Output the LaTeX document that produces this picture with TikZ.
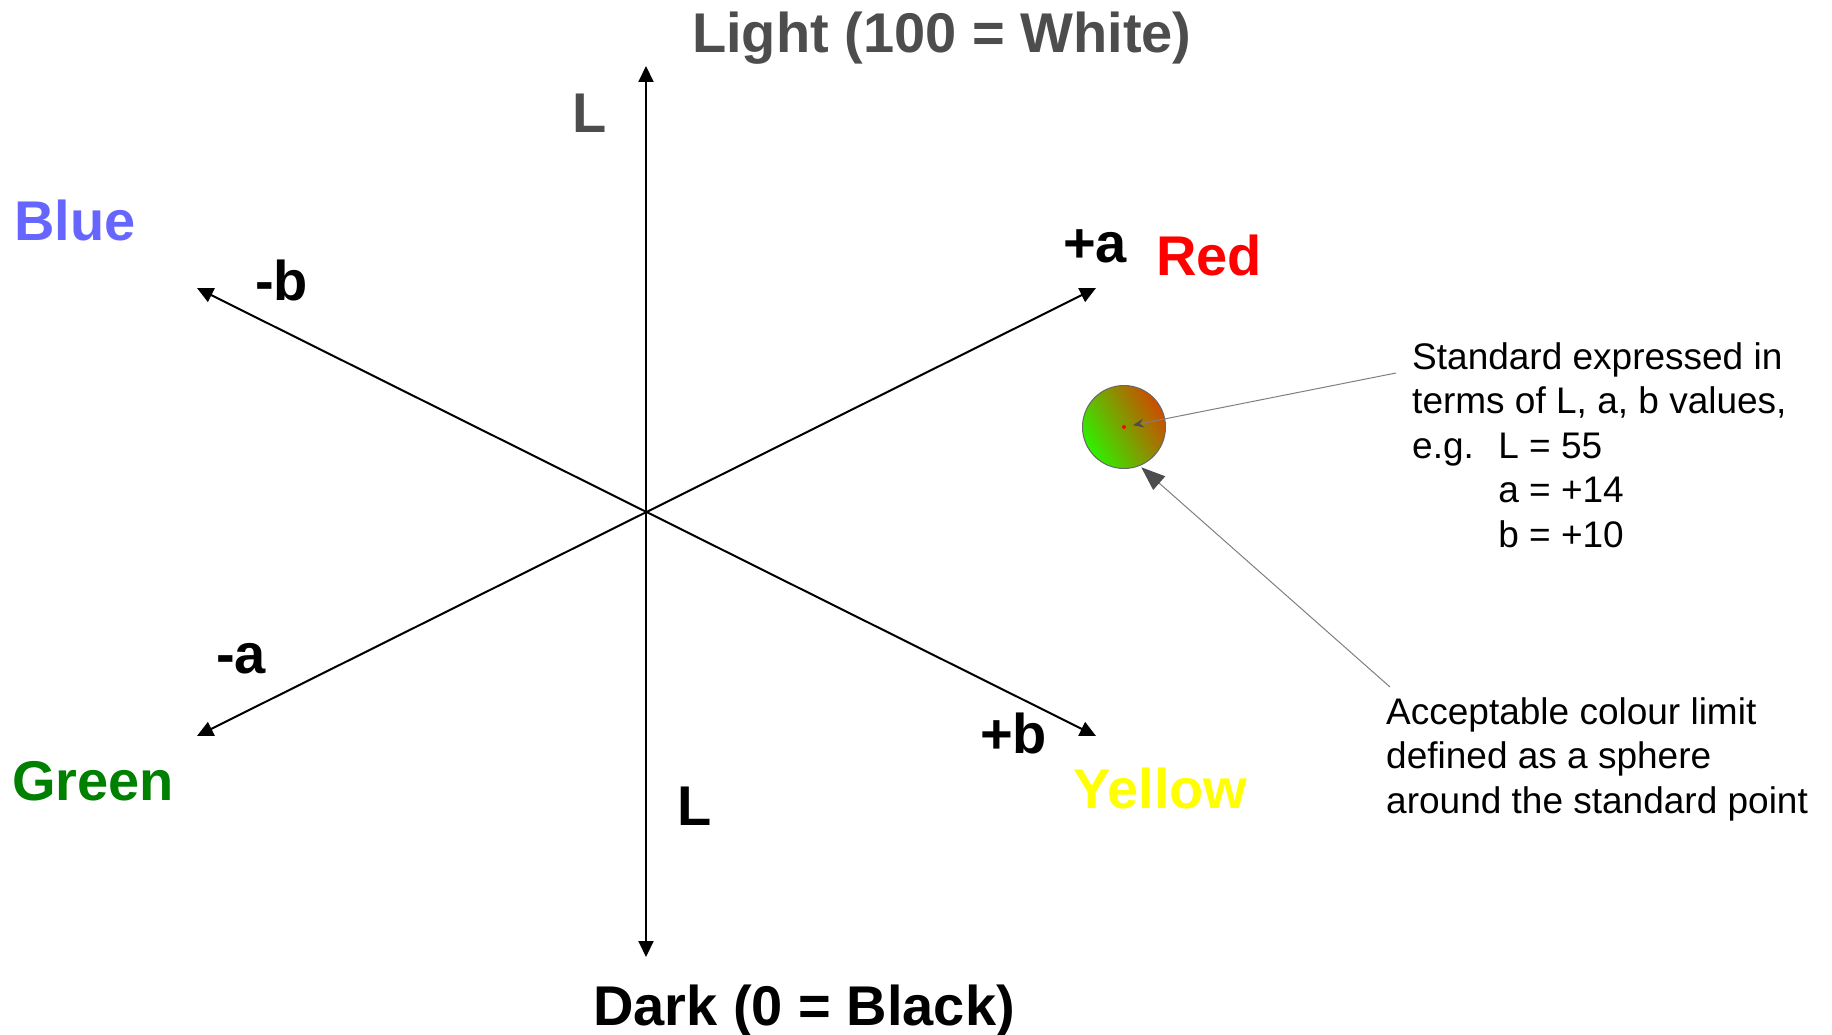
\documentclass[tikz,border=0pt]{standalone}
\usepackage{fontspec}
\setmainfont{Liberation Sans}
\usetikzlibrary{arrows.meta}
\definecolor{titlegray}{HTML}{4D4D4D}
\definecolor{labblue}{HTML}{6666FF}
\definecolor{labred}{HTML}{FF0000}
\definecolor{labgreen}{HTML}{008000}
\definecolor{labyellow}{HTML}{FFFF00}
\definecolor{spheretop}{HTML}{CC4C00}
\definecolor{spherebot}{HTML}{30F000}
\definecolor{annogray}{HTML}{7F7F7F}
\begin{document}
\begin{tikzpicture}[x=1pt,y=-1pt,
  axisline/.style={line width=2pt,
    {Triangle[length=16pt,width=15pt]}-{Triangle[length=16pt,width=15pt]}},
  biglabel/.style={font=\fontsize{56}{67}\selectfont\bfseries, inner sep=0pt, anchor=base west},
  note/.style={font=\fontsize{37}{44.5}\selectfont, inner sep=0pt, anchor=base west, align=left},
  anno/.style={draw=annogray, line width=1pt},
]
\useasboundingbox (0,0) rectangle (1832,1035);

% axes
\coordinate (O) at (646,512);
\coordinate (Ltop) at (646,66);
\coordinate (Lbot) at (646,957);
\coordinate (bneg) at (197,288);
\coordinate (bpos) at (1096,736);
\coordinate (aneg) at (197,736);
\coordinate (apos) at (1096,288);
\draw[axisline] (Lbot) -- (Ltop);
\draw[axisline] (bneg) -- (bpos);
\draw[axisline] (aneg) -- (apos);

% labels
\node[biglabel, text=titlegray] (light) at (692,53) {Light (100 = White)};
\node[biglabel, text=titlegray] (Lt) at (572,133) {L};
\node[biglabel, text=labblue] (blue) at (14,241) {Blue};
\node[biglabel] (mb) at (255,301) {-b};
\node[biglabel] (pa) at (1063,262) {+a};
\node[biglabel, text=labred] (red) at (1156,276) {Red};
\node[biglabel] (ma) at (216,673) {-a};
\node[biglabel, text=labgreen] (green) at (12,800) {Green};
\node[biglabel] (pb) at (980,753) {+b};
\node[biglabel, text=labyellow] (yellow) at (1073,808) {Yellow};
\node[biglabel] (Lb) at (677,825) {L};
\node[biglabel] (dark) at (593,1025) {Dark (0 = Black)};

% sphere
\node[circle, minimum size=83pt, inner sep=0pt, draw=titlegray!85, line width=1pt,
      top color=spheretop, bottom color=spherebot, shading angle=-60] (sphere) at (1124,427) {};
\node[circle, fill=red, minimum size=4pt, inner sep=0pt] (dot) at (1124,427) {};

% notes (base anchor = baseline of the last line)
\node[note] (std) at (1412,547) {Standard expressed in\\terms of L, a, b values,\\e.g.\hspace{0.66em}L = 55\\\hphantom{e.g.}\hspace{0.66em}a = +14\\\hphantom{e.g.}\hspace{0.66em}b = +10};
\node[note] (acc) at (1386,813) {Acceptable colour limit\\defined as a sphere\\around the standard point};

\coordinate (s1) at (1396,373);
\coordinate (s2) at (1390,687);
\draw[anno, -{Stealth[length=11pt,width=9pt,inset=4pt,color=titlegray,fill=titlegray]}, shorten >=7pt] (s1) -- (dot);
\draw[anno, -{Triangle[length=24pt,width=18pt,color=titlegray,fill=titlegray]}, shorten >=2pt] (s2) -- (sphere.-68);
\end{tikzpicture}
\end{document}
